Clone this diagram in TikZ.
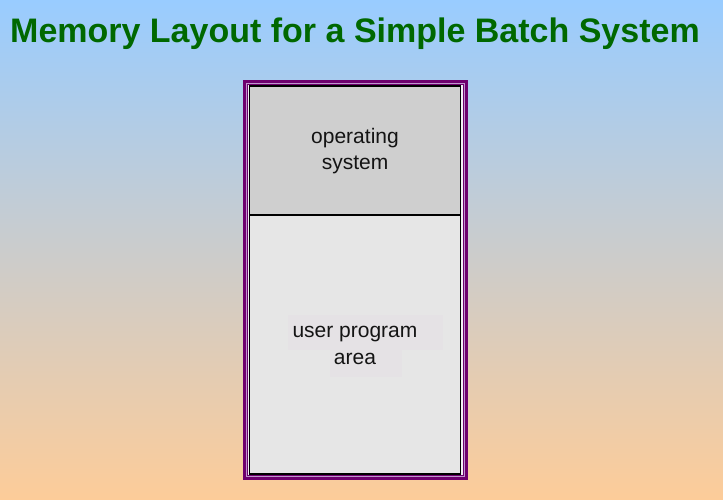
\documentclass[tikz,border=0pt]{standalone}
\usepackage{fontspec}
\setmainfont{Liberation Sans}
\definecolor{bgtop}{RGB}{153,204,255}
\definecolor{bgbot}{RGB}{253,204,153}
\definecolor{titlegreen}{RGB}{0,104,0}
\definecolor{framepurple}{RGB}{110,0,110}
\definecolor{framelight}{RGB}{190,150,205}
\definecolor{osgray}{RGB}{207,207,207}
\definecolor{usergray}{RGB}{230,230,230}
\definecolor{patchgray}{RGB}{229,226,229}
\definecolor{txt}{RGB}{20,20,20}
\begin{document}
\begin{tikzpicture}[x=1pt,y=-1pt,
  lbl/.style={anchor=base,inner sep=0pt,text=txt,font=\fontsize{21}{27}\selectfont},
  titlestyle/.style={anchor=base west,inner sep=0pt,text=titlegreen,font=\fontsize{34}{40}\selectfont\bfseries}]
\useasboundingbox (0,0) rectangle (723,500);
\shade[top color=bgtop,bottom color=bgbot] (0,0) rectangle (723,500);
\node[titlestyle] (title) at (10,43) {Memory Layout for a Simple Batch System};
% frame
\fill[framepurple] (243,80) rectangle (468,480);
\draw[framelight,line width=0.9pt] (246.2,83.2) rectangle (464.8,476.8);
\fill[white!85!framelight] (247.8,84.8) rectangle (463.2,475.2);
% memory regions
\fill[osgray] (249.5,86) rectangle (460.5,215);
\fill[usergray] (249.5,215) rectangle (460.5,474);
\fill[patchgray] (288,315) rectangle (443,350);
\fill[patchgray] (330,350) rectangle (402,377);
\draw[black,line width=1.3pt] (249.5,86) rectangle (460.5,474);
\draw[black,line width=1.5pt] (249.5,215) -- (460.5,215);
\node[lbl] (os1) at (355,143) {operating};
\node[lbl] (os2) at (355,170) {system};
\node[lbl] (up1) at (355,337) {user program};
\node[lbl] (up2) at (355,364) {area};
\end{tikzpicture}
\end{document}
